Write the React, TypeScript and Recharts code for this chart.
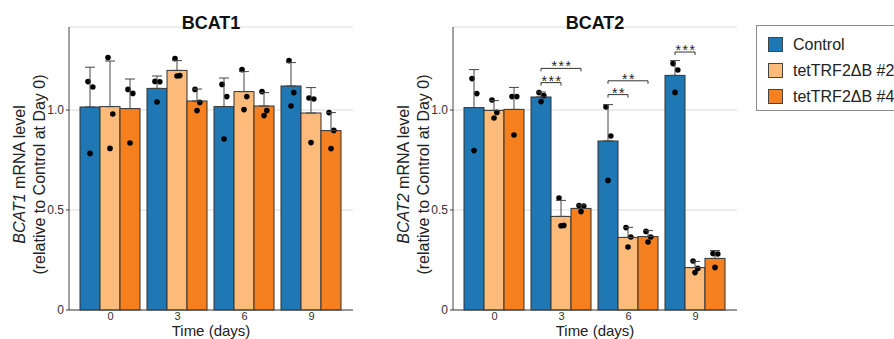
import React from 'react';
import { BarChart, Bar, XAxis, YAxis, CartesianGrid, ErrorBar, Legend } from 'recharts';

const days = ['0', '3', '6', '9'];
const seriesNames = ['Control', 'tetTRF2ΔB #2', 'tetTRF2ΔB #4'];
const colors = ['#1f77b4', '#fdbb7b', '#f5801f'];
const yTicks = [0, 0.5, 1.0];

// BCAT1 means, SD (upper whisker) and replicate points
const bcat1Control = [1.015, 1.108, 1.017, 1.12];
const bcat1Tet2 = [1.017, 1.198, 1.092, 0.985];
const bcat1Tet4 = [1.007, 1.045, 1.02, 0.897];
const bcat1ControlSd = [0.199, 0.062, 0.143, 0.117];
const bcat1Tet2Sd = [0.228, 0.049, 0.1, 0.127];
const bcat1Tet4Sd = [0.148, 0.06, 0.067, 0.09];
const bcat1ControlPts = [[1.142, 1.115, 0.783], [1.143, 1.141, 1.04], [1.128, 1.067, 0.855], [1.247, 1.087, 1.02]];
const bcat1Tet2Pts = [[1.262, 0.98, 0.808], [1.257, 1.172, 1.17], [1.202, 1.067, 1.002], [1.06, 1.055, 0.837]];
const bcat1Tet4Pts = [[1.103, 1.083, 0.835], [1.103, 1.038, 0.997], [1.092, 0.997, 0.972], [0.987, 0.898, 0.807]];

// BCAT2
const bcat2Control = [1.012, 1.065, 0.845, 1.173];
const bcat2Tet2 = [0.998, 0.468, 0.363, 0.212];
const bcat2Tet4 = [1.003, 0.508, 0.367, 0.258];
const bcat2ControlSd = [0.19, 0.025, 0.182, 0.074];
const bcat2Tet2Sd = [0.049, 0.08, 0.05, 0.031];
const bcat2Tet4Sd = [0.11, 0.017, 0.03, 0.039];
const bcat2ControlPts = [[1.157, 1.082, 0.797], [1.087, 1.072, 1.042], [1.015, 0.87, 0.648], [1.232, 1.2, 1.088]];
const bcat2Tet2Pts = [[1.05, 0.988, 0.96], [0.56, 0.423, 0.421], [0.412, 0.365, 0.315], [0.245, 0.208, 0.187]];
const bcat2Tet4Pts = [[1.067, 1.067, 0.875], [0.522, 0.52, 0.492], [0.393, 0.365, 0.34], [0.282, 0.28, 0.213]];

// significance brackets (BCAT2): compared series vs Control, bracket height in y units
const bcat2Sig = [
  { day: '3', series: 1, level: 1.137, label: '***' },
  { day: '3', series: 2, level: 1.208, label: '***' },
  { day: '6', series: 1, level: 1.077, label: '**' },
  { day: '6', series: 2, level: 1.146, label: '**' },
  { day: '9', series: 1, level: 1.29, label: '***' },
];

const JITTER = [-0.1, 0.14, 0.0];
const FONT = '"Liberation Sans", Arial, Helvetica, sans-serif';

type Sig = { day: string; series: number; level: number; label: string };

function buildRows(means: number[][], sds: number[][], pts: number[][][]) {
  return days.map((d, i) => {
    const row: any = { day: d };
    means.forEach((m, k) => {
      row['s' + k] = m[i];
      row['e' + k] = [0, sds[k][i]];
      row['p' + k] = pts[k][i];
    });
    return row;
  });
}

const bcat1Rows = buildRows(
  [bcat1Control, bcat1Tet2, bcat1Tet4],
  [bcat1ControlSd, bcat1Tet2Sd, bcat1Tet4Sd],
  [bcat1ControlPts, bcat1Tet2Pts, bcat1Tet4Pts]
);
const bcat2Rows = buildRows(
  [bcat2Control, bcat2Tet2, bcat2Tet4],
  [bcat2ControlSd, bcat2Tet2Sd, bcat2Tet4Sd],
  [bcat2ControlPts, bcat2Tet2Pts, bcat2Tet4Pts]
);

function renderBar(props: any, k: number, sig: Sig[]) {
  const { x, y, width, height, fill, payload } = props;
  const value = payload['s' + k];
  const base = y + height;
  const ppu = height / value;
  const cx = x + width / 2;
  const pts: number[] = payload['p' + k] || [];
  const marks = sig.filter((s) => s.day === payload.day && s.series === k);
  return (
    <g>
      <rect x={x} y={y} width={width} height={height} fill={fill} stroke="#333" strokeWidth={1} />
      {pts.map((v, i) => (
        <circle key={i} cx={cx + JITTER[i] * width} cy={base - v * ppu} r={2.8} fill="#000" />
      ))}
      {marks.map((s, i) => {
        const ly = base - s.level * ppu;
        const x0 = cx - k * width;
        return (
          <g key={'s' + i}>
            <path d={`M${x0},${ly + 3}V${ly}H${cx}V${ly + 3}`} fill="none" stroke="#333" strokeWidth={1} />
            <text x={(x0 + cx) / 2 + 1} y={ly + 3} textAnchor="middle" fontSize={14} letterSpacing={1.5} fill="#222">
              {s.label}
            </text>
          </g>
        );
      })}
    </g>
  );
}

function yLabel(gene: string) {
  return (props: any) => {
    const vb = props.viewBox;
    const cy = vb.y + vb.height / 2 + 6;
    return (
      <g fontSize={16} fill="#222" textAnchor="middle">
        <text x={19} y={cy} dominantBaseline="central" transform={`rotate(-90, 19, ${cy})`}>
          <tspan fontStyle="italic">{gene}</tspan>
          <tspan> mRNA level</tspan>
        </text>
        <text x={39} y={cy} dominantBaseline="central" transform={`rotate(-90, 39, ${cy})`}>
          (relative to Control at Day 0)
        </text>
      </g>
    );
  };
}

function xLabel(props: any) {
  const vb = props.viewBox;
  return (
    <text x={vb.x + vb.width / 2} y={vb.y + 26} textAnchor="middle" fontSize={15} fill="#222">
      Time (days)
    </text>
  );
}

function LegendBox(props: any) {
  const payload = props.payload || [];
  return (
    <div
      style={{
        position: 'relative',
        width: 150,
        height: 86,
        border: '1px solid #8a8a8a',
        boxSizing: 'border-box',
        background: '#fff',
        fontFamily: FONT,
      }}
    >
      {payload.map((p: any, i: number) => (
        <div key={i} style={{ position: 'absolute', left: 11, top: 11 + i * 26, height: 15, display: 'flex', alignItems: 'center' }}>
          <div style={{ width: 15, height: 15, background: p.color, border: '1px solid #444', boxSizing: 'border-box' }} />
          <span style={{ marginLeft: 10, fontSize: 16, color: '#222', whiteSpace: 'nowrap', lineHeight: '15px' }}>{p.value}</span>
        </div>
      ))}
    </div>
  );
}

function GenePanel({ gene, rows, sig, width, showLegend }: { gene: string; rows: any[]; sig: Sig[]; width: number; showLegend: boolean }) {
  return (
    <div style={{ position: 'relative', width, height: 339 }}>
      <div
        style={{
          position: 'absolute',
          left: 69,
          width: 284,
          top: 12,
          textAlign: 'center',
          fontSize: 18,
          fontWeight: 'bold',
          color: '#111',
          lineHeight: '22px',
          zIndex: 2,
        }}
      >
        {gene}
      </div>
      <BarChart
        width={width}
        height={339}
        data={rows}
        margin={{ top: 27, right: width - 353, bottom: 0, left: 0 }}
        barCategoryGap={3}
        barGap={0}
      >
        <CartesianGrid horizontal vertical={false} stroke="#dcdcdc" />
        <XAxis
          dataKey="day"
          height={29}
          padding={{ left: 8, right: 8 }}
          tickSize={0}
          tickMargin={2}
          tick={{ fontSize: 11, fill: '#333' }}
          axisLine={{ stroke: '#444' }}
          label={{ content: xLabel }}
        />
        <YAxis
          type="number"
          width={69}
          domain={[0, 1.415]}
          ticks={yTicks}
          tickFormatter={(v: number) => (v === 0 ? '0' : v.toFixed(1))}
          tickSize={3}
          tick={{ fontSize: 12, fill: '#333' }}
          axisLine={{ stroke: '#444' }}
          tickLine={{ stroke: '#444' }}
          label={{ content: yLabel(gene) }}
        />
        {[0, 1, 2].map((k) => (
          <Bar
            key={k}
            dataKey={'s' + k}
            name={seriesNames[k]}
            fill={colors[k]}
            isAnimationActive={false}
            shape={(p: any) => renderBar(p, k, sig)}
          >
            <ErrorBar dataKey={'e' + k} width={5} stroke="#444" strokeWidth={1} direction="y" />
          </Bar>
        ))}
        {showLegend && (
          <Legend
            layout="vertical"
            align="center"
            verticalAlign="middle"
            content={<LegendBox />}
            wrapperStyle={{ left: 756 - 384, top: 25, width: 150, height: 86 }}
          />
        )}
      </BarChart>
    </div>
  );
}

export default function App() {
  return (
    <div
      style={{
        position: 'absolute',
        left: 0,
        top: 0,
        width: 894,
        height: 339,
        overflow: 'hidden',
        background: '#fff',
        fontFamily: FONT,
        display: 'flex',
      }}
    >
      <GenePanel gene="BCAT1" rows={bcat1Rows} sig={[]} width={384} showLegend={false} />
      <GenePanel gene="BCAT2" rows={bcat2Rows} sig={bcat2Sig} width={510} showLegend />
    </div>
  );
}
